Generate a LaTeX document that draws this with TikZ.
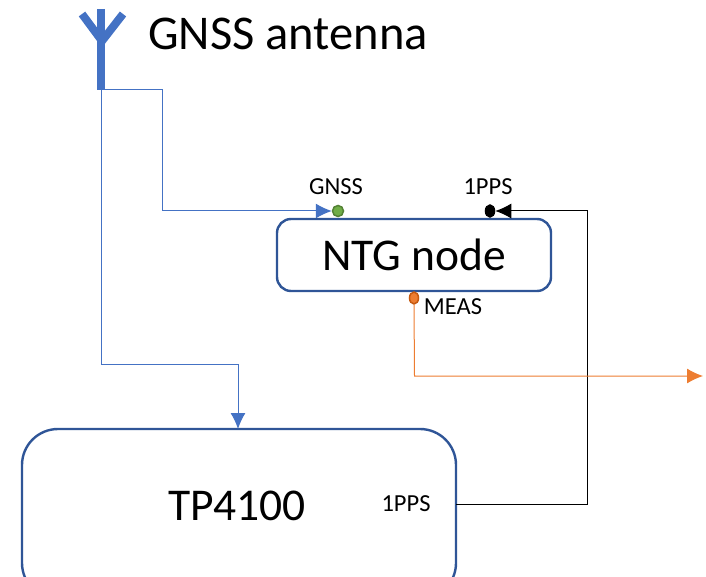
\documentclass[tikz,border=0pt]{standalone}
\usepackage{xcolor}
\usepackage{fontspec}
\setmainfont{Carlito}
\usetikzlibrary{arrows.meta,shapes.geometric}

\definecolor{lineblue}{HTML}{4472C4}
\definecolor{boxblue}{HTML}{2F5597}
\definecolor{dotgreen}{HTML}{70AD47}
\definecolor{rimgreen}{HTML}{548235}
\definecolor{lineorange}{HTML}{ED7D31}
\definecolor{rimorange}{HTML}{C55A11}

\tikzset{
box/.style={draw=boxblue, line width=2.4pt, fill=white, inner sep=0pt},
dot/.style={ellipse, inner sep=0pt, minimum width=9pt, minimum height=12pt, line width=1.5pt},
port/.style={font=\fontsize{24.5}{24.5}\selectfont, inner sep=0pt},
tip/.style={-{Latex[length=16pt,width=15pt]}},
wire/.style={line width=1pt},
}

\begin{document}
\begin{tikzpicture}[x=1pt,y=-1pt]
\clip (0,0) rectangle (706,577);

\draw[color=lineblue, line width=8pt] (101,9)--(101,90);
\draw[color=lineblue, line width=8pt] (82,14)--(102,41)--(123,14);
\coordinate (feed) at (101,90);

\node[anchor=west, inner sep=0pt, font=\fontsize{48.5}{48.5}\selectfont] (title) at (148,34) {GNSS antenna};

\node[box, minimum width=274pt, minimum height=72pt, rounded corners=14pt, font=\fontsize{45.5}{45.5}\selectfont] (ntg) at (414,255) {NTG node};
\node[box, minimum width=434pt, minimum height=170pt, rounded corners=36pt] (tp) at (239,514) {};
\node[inner sep=0pt, font=\fontsize{45.5}{45.5}\selectfont] (tpname) at (237,506) {TP4100};

\node[dot, fill=dotgreen, draw=rimgreen, minimum width=11pt, minimum height=11pt] (gnssdot) at (338,211) {};
\node[dot, fill=black, draw=black] (ppsdot) at (490,211) {};
\node[dot, fill=lineorange, draw=rimorange] (measdot) at (414,298) {};

\node[port] (gnsstext) at (336,187) {GNSS};
\node[port] (ppstext) at (488,187) {1PPS};
\node[port] (meastext) at (453,307) {MEAS};
\node[port] (tppps) at (406,504) {1PPS};

\coordinate (tpin) at (238,429);
\coordinate (tpout) at (456,504);
\coordinate (outend) at (703,376);

\draw[color=lineblue, wire] (feed)--(162,90)--(162,211);
\draw[color=lineblue, wire, tip] (162,211)--(gnssdot.west);
\draw[color=lineblue, wire, tip] (feed)--(101,364)--(238,364)--(tpin);
\draw[color=black, wire, tip] (tpout)--(587,504)--(587,211)--(ppsdot.east);
\draw[color=lineorange, wire, tip] (measdot.south)--(414.5,376)--(outend);
\end{tikzpicture}
\end{document}
